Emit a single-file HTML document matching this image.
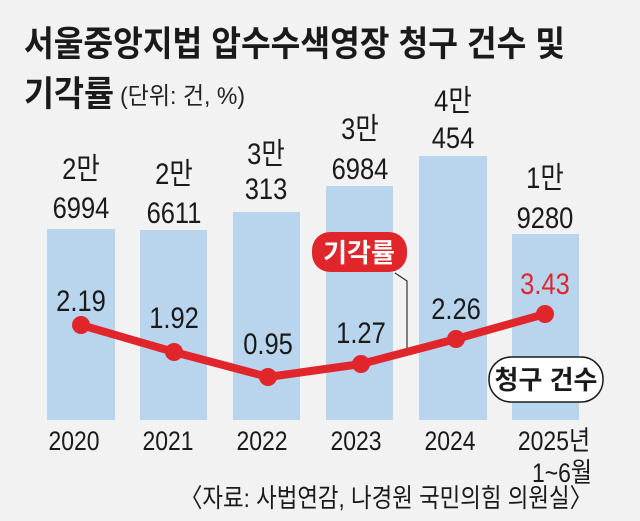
<!DOCTYPE html>
<html><head><meta charset="utf-8"><style>
html,body{margin:0;padding:0;background:#f2f2f2;}
svg{display:block;}
text{font-family:"Liberation Sans","Noto Sans CJK KR",sans-serif;}
</style></head><body>
<svg width="640" height="521" viewBox="0 0 640 521" xmlns="http://www.w3.org/2000/svg">
<rect width="640" height="521" fill="#f2f2f2"/>
<text x="24" y="56" font-size="35" font-weight="bold" fill="#1a1a1a" textLength="541" lengthAdjust="spacingAndGlyphs">서울중앙지법 압수수색영장 청구 건수 및</text>
<text x="24" y="106" font-size="35" font-weight="bold" fill="#1a1a1a" textLength="90" lengthAdjust="spacingAndGlyphs">기각률</text>
<text x="120" y="104" font-size="24" fill="#222" textLength="125" lengthAdjust="spacingAndGlyphs">(단위: 건, %)</text>
<g fill="#b9d5ee">
<rect x="47" y="229" width="68" height="191"/>
<rect x="140" y="230" width="67" height="190"/>
<rect x="233" y="212" width="67" height="208"/>
<rect x="326" y="186" width="67" height="234"/>
<rect x="419" y="156" width="68" height="264"/>
<rect x="512" y="234" width="67" height="186"/>
</g>
<g font-size="30" fill="#1a1a1a" text-anchor="middle">
<text x="81" y="179" transform="translate(81 0) scale(0.85 1) translate(-81 0)">2만</text>
<text x="81" y="218" transform="translate(81 0) scale(0.85 1) translate(-81 0)">6994</text>
<text x="174" y="184" transform="translate(174 0) scale(0.85 1) translate(-174 0)">2만</text>
<text x="174" y="223" transform="translate(174 0) scale(0.85 1) translate(-174 0)">6611</text>
<text x="266" y="164" transform="translate(266 0) scale(0.85 1) translate(-266 0)">3만</text>
<text x="266" y="199" transform="translate(266 0) scale(0.85 1) translate(-266 0)">313</text>
<text x="360" y="139" transform="translate(360 0) scale(0.85 1) translate(-360 0)">3만</text>
<text x="360" y="179" transform="translate(360 0) scale(0.85 1) translate(-360 0)">6984</text>
<text x="453" y="111" transform="translate(453 0) scale(0.85 1) translate(-453 0)">4만</text>
<text x="453" y="148" transform="translate(453 0) scale(0.85 1) translate(-453 0)">454</text>
<text x="545" y="188" transform="translate(545 0) scale(0.85 1) translate(-545 0)">1만</text>
<text x="545" y="228" transform="translate(545 0) scale(0.85 1) translate(-545 0)">9280</text>
</g>
<polyline points="395,273 407,281 407,352" fill="none" stroke="#333" stroke-width="1.2"/>
<rect x="312" y="232" width="95" height="40" rx="18" fill="#e0262b"/>
<text x="359" y="262" font-size="26" font-weight="bold" fill="#fff" text-anchor="middle">기각률</text>
<polyline points="81,325 174,352 268,377 361,364 456,339 545,314" fill="none" stroke="#e0262b" stroke-width="8" stroke-linejoin="round"/>
<g fill="#e0262b">
<circle cx="81" cy="325" r="9"/><circle cx="174" cy="352" r="9"/><circle cx="268" cy="377" r="9"/>
<circle cx="361" cy="364" r="9"/><circle cx="456" cy="339" r="9"/><circle cx="545" cy="314" r="9"/>
</g>
<g font-size="30" fill="#1a1a1a" text-anchor="middle">
<text x="81" y="311" transform="translate(81 0) scale(0.85 1) translate(-81 0)">2.19</text>
<text x="174" y="328" transform="translate(174 0) scale(0.85 1) translate(-174 0)">1.92</text>
<text x="268" y="354" transform="translate(268 0) scale(0.85 1) translate(-268 0)">0.95</text>
<text x="361" y="343" transform="translate(361 0) scale(0.85 1) translate(-361 0)">1.27</text>
<text x="456" y="319" transform="translate(456 0) scale(0.85 1) translate(-456 0)">2.26</text>
<text x="545" y="294" fill="#e0262b" transform="translate(545 0) scale(0.85 1) translate(-545 0)">3.43</text>
</g>
<rect x="489" y="357" width="114" height="45" rx="22" fill="#fff" stroke="#1a1a1a" stroke-width="1.5"/>
<text x="546" y="389" font-size="26" font-weight="bold" fill="#1a1a1a" text-anchor="middle">청구 건수</text>
<g font-size="27" fill="#1a1a1a" text-anchor="middle">
<text x="74" y="450" transform="translate(74 0) scale(0.85 1) translate(-74 0)">2020</text>
<text x="168" y="450" transform="translate(168 0) scale(0.85 1) translate(-168 0)">2021</text>
<text x="262" y="450" transform="translate(262 0) scale(0.85 1) translate(-262 0)">2022</text>
<text x="356" y="450" transform="translate(356 0) scale(0.85 1) translate(-356 0)">2023</text>
<text x="450" y="450" transform="translate(450 0) scale(0.85 1) translate(-450 0)">2024</text>
<text x="554" y="450" transform="translate(554 0) scale(0.85 1) translate(-554 0)">2025년</text>
<text x="562" y="482" transform="translate(562 0) scale(0.85 1) translate(-562 0)">1~6월</text>
</g>
<text x="180" y="507" font-size="26" fill="#1a1a1a" textLength="412" lengthAdjust="spacingAndGlyphs">〈자료: 사법연감, 나경원 국민의힘 의원실〉</text>
</svg>
</body></html>
